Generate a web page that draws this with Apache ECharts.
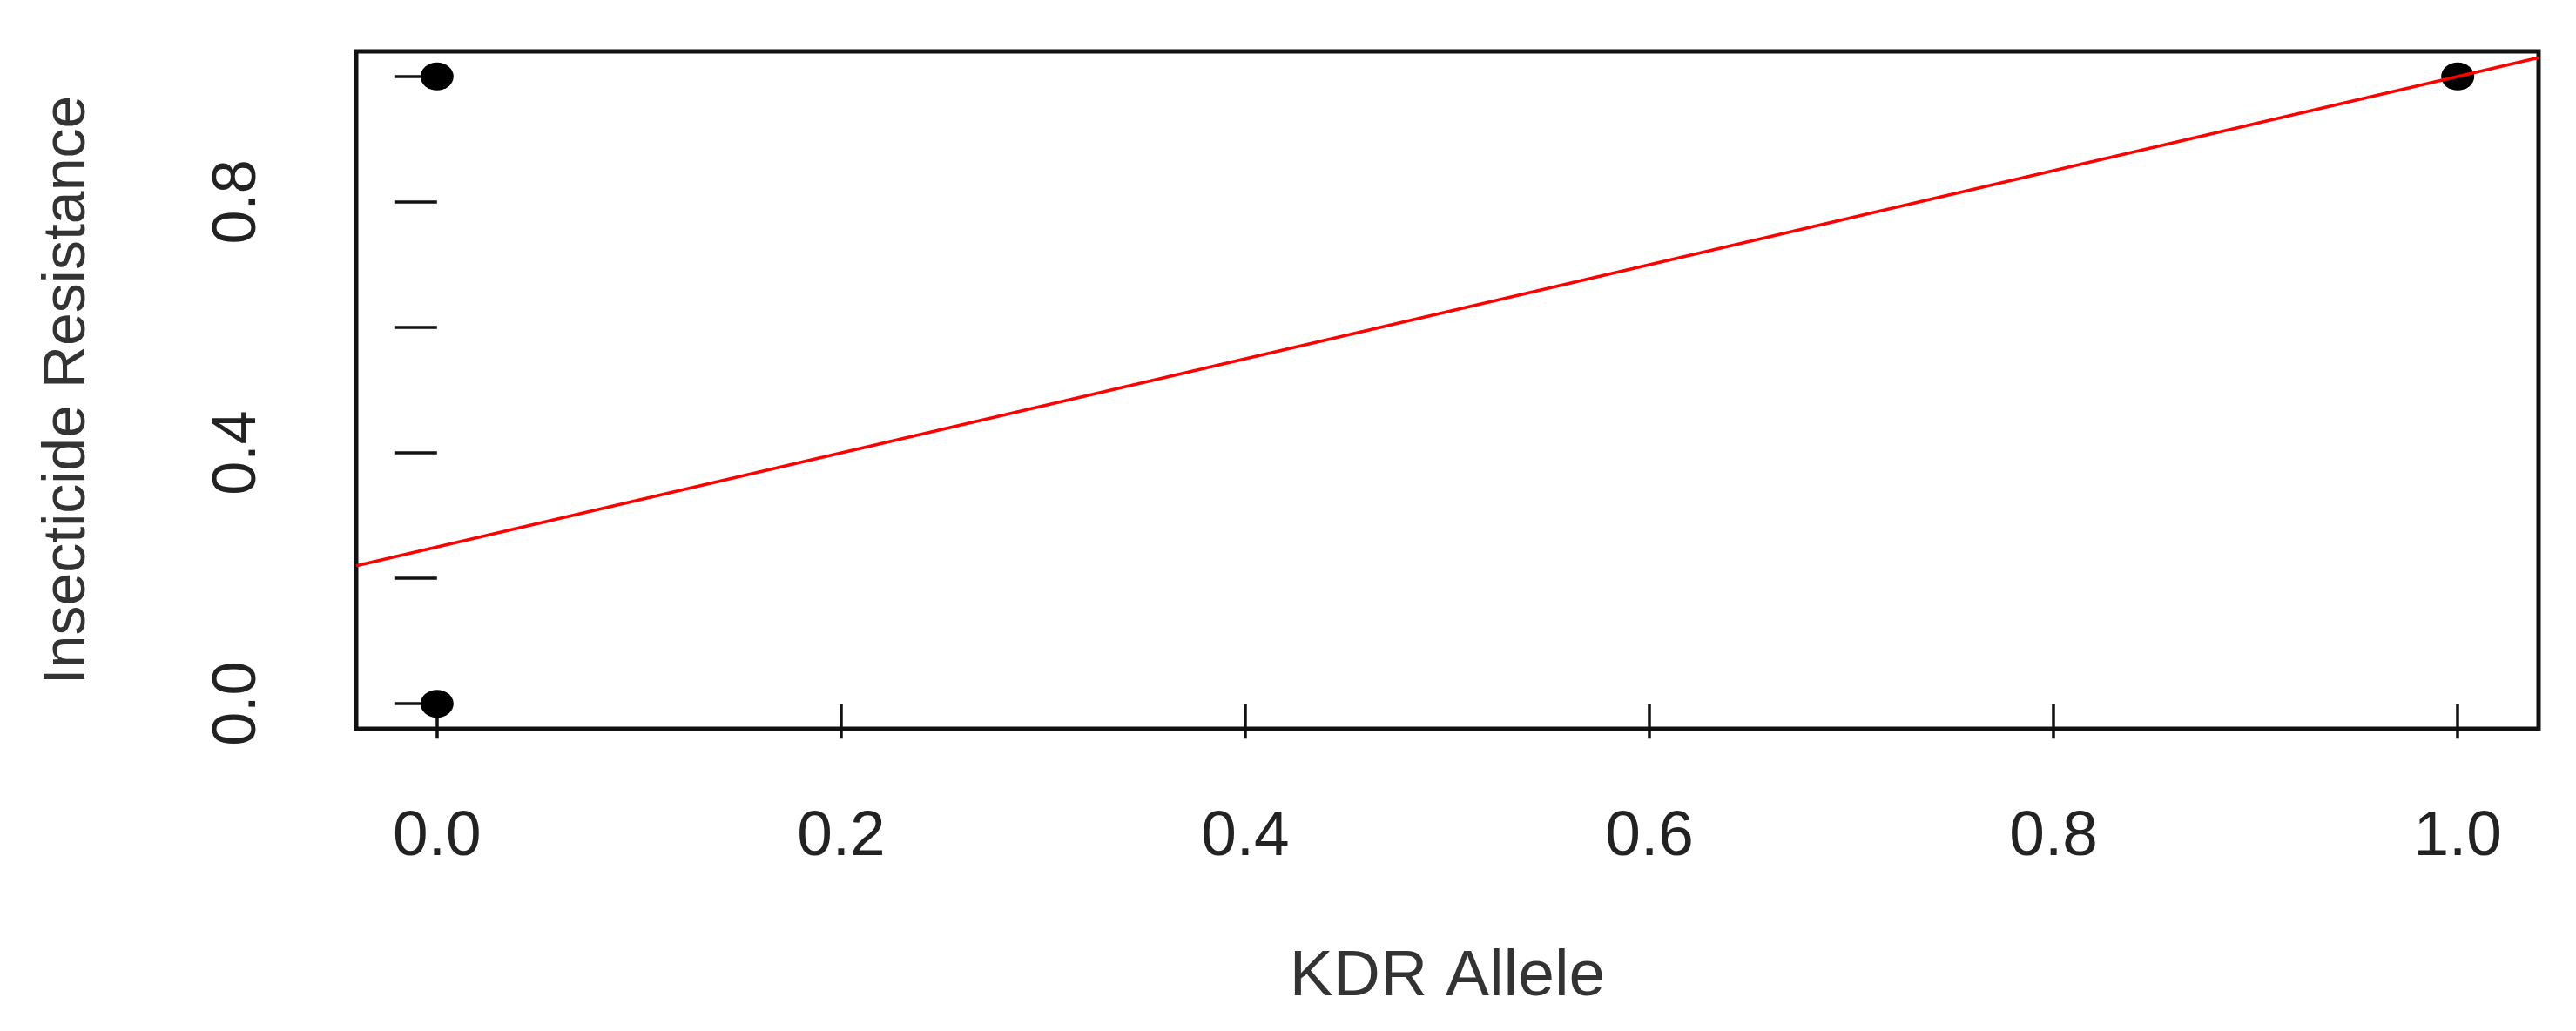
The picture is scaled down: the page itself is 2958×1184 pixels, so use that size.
<!DOCTYPE html>
<html>
<head>
<meta charset="utf-8">
<script src="https://cdn.jsdelivr.net/npm/echarts@6/dist/echarts.min.js"></script>
<style>
  html, body { margin: 0; padding: 0; background: #fff; }
  #main { width: 2958px; height: 1184px; }
</style>
</head>
<body>
<div id="main"></div>
<script>
// observed points
var kdrAllele = [0, 0, 1];
var resistance = [1, 0, 1];

// fitted line, read at the plot edges
var fitX = [-0.04, 1.04];
var fitY = [0.22, 1.03];

// ticks
var xTicks = [0, 0.2, 0.4, 0.6, 0.8, 1.0];
var yTicks = [0, 0.2, 0.4, 0.6, 0.8, 1.0];
var yLabels = [0, 0.4, 0.8];

var chart = echarts.init(document.getElementById('main'));

var pts = kdrAllele.map(function (x, i) { return [x, resistance[i]]; });
var fit = fitX.map(function (x, i) { return [x, fitY[i]]; });

var font = 'Liberation Sans, Arial, sans-serif';

var option = {
  backgroundColor: '#fff',
  animation: false,
  grid: {
    left: 409,
    right: 43,
    top: 59,
    bottom: 347,
    show: true,
    borderColor: '#111',
    borderWidth: 5,
    backgroundColor: 'transparent'
  },
  xAxis: {
    type: 'value',
    min: -0.04,
    max: 1.04,
    name: 'KDR Allele',
    nameLocation: 'middle',
    nameGap: 248,
    nameTextStyle: { fontFamily: font, fontSize: 75, color: '#333' },
    axisLine: { show: false },
    splitLine: { show: false },
    axisTick: {
      show: true,
      length: 40,
      customValues: xTicks,
      lineStyle: { color: '#111', width: 3.5 }
    },
    axisLabel: {
      customValues: xTicks,
      margin: 88,
      fontFamily: font,
      fontSize: 73,
      color: '#222',
      formatter: function (v) { return v.toFixed(1); }
    }
  },
  yAxis: {
    type: 'value',
    min: -0.04,
    max: 1.04,
    name: 'Insecticide Resistance',
    nameLocation: 'middle',
    nameRotate: 90,
    nameGap: 297,
    nameTextStyle: { fontFamily: font, fontSize: 68, color: '#333' },
    axisLine: { show: false },
    splitLine: { show: false },
    axisTick: {
      show: true,
      length: 48,
      customValues: yTicks,
      lineStyle: { color: '#111', width: 3.5 }
    },
    axisLabel: {
      customValues: yLabels,
      rotate: 90,
      margin: 100,
      fontFamily: font,
      fontSize: 70,
      color: '#222',
      formatter: function (v) { return v.toFixed(1); }
    }
  },
  series: [
    {
      type: 'scatter',
      data: pts,
      symbol: 'circle',
      symbolSize: [38, 32],
      itemStyle: { color: '#000', opacity: 1 }
    },
    {
      type: 'line',
      data: fit,
      symbol: 'none',
      clip: true,
      lineStyle: { color: '#ff0000', width: 3.5 }
    }
  ]
};

chart.setOption(option);
</script>
</body>
</html>
